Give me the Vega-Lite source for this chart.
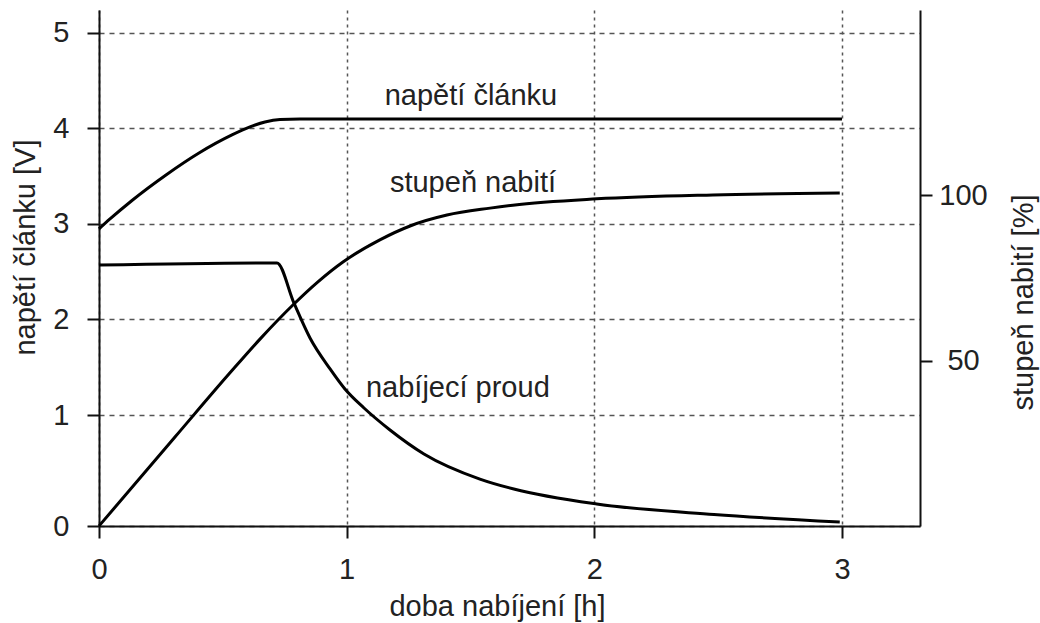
{
  "$schema": "https://vega.github.io/schema/vega-lite/v6.json",
  "width": 821,
  "height": 516,
  "autosize": "none",
  "padding": {"left": 99, "top": 10, "right": 120, "bottom": 97},
  "background": "white",
  "config": {
    "font": "Liberation Sans",
    "view": {"stroke": null},
    "axis": {
      "domainColor": "#111",
      "domainWidth": 2,
      "tickColor": "#111",
      "tickWidth": 2,
      "tickSize": 12,
      "labelFont": "Liberation Sans",
      "labelFontSize": 29,
      "labelColor": "#222",
      "labelFlush": false,
      "titleFont": "Liberation Sans",
      "titleFontSize": 29,
      "titleFontWeight": "normal",
      "titleColor": "#222",
      "gridColor": "#555",
      "gridWidth": 1.5
    }
  },
  "datasets": {
    "curves": [
      {"series": "napětí článku", "x": 0, "value": 2.948},
      {"series": "napětí článku", "x": 0.0444, "value": 3.052},
      {"series": "napětí článku", "x": 0.1332, "value": 3.246},
      {"series": "napětí článku", "x": 0.2705, "value": 3.513},
      {"series": "napětí článku", "x": 0.4037, "value": 3.743},
      {"series": "napětí článku", "x": 0.5369, "value": 3.932},
      {"series": "napětí článku", "x": 0.6096, "value": 4.016},
      {"series": "napětí článku", "x": 0.6701, "value": 4.068},
      {"series": "napětí článku", "x": 0.7307, "value": 4.094},
      {"series": "napětí článku", "x": 0.8114, "value": 4.099},
      {"series": "napětí článku", "x": 1.0, "value": 4.099},
      {"series": "napětí článku", "x": 2.0, "value": 4.099},
      {"series": "napětí článku", "x": 3.0, "value": 4.099},
      {"series": "nabíjecí proud", "x": 0, "value": 2.57},
      {"series": "nabíjecí proud", "x": 0.7186, "value": 2.592},
      {"series": "nabíjecí proud", "x": 0.787, "value": 2.173},
      {"series": "nabíjecí proud", "x": 0.852, "value": 1.806},
      {"series": "nabíjecí proud", "x": 0.933, "value": 1.482},
      {"series": "nabíjecí proud", "x": 0.993, "value": 1.272},
      {"series": "nabíjecí proud", "x": 1.07, "value": 1.073},
      {"series": "nabíjecí proud", "x": 1.175, "value": 0.865},
      {"series": "nabíjecí proud", "x": 1.312, "value": 0.649},
      {"series": "nabíjecí proud", "x": 1.538, "value": 0.423},
      {"series": "nabíjecí proud", "x": 1.675, "value": 0.333},
      {"series": "nabíjecí proud", "x": 2.01, "value": 0.198},
      {"series": "nabíjecí proud", "x": 2.483, "value": 0.104},
      {"series": "nabíjecí proud", "x": 2.991, "value": 0.036}
    ],
    "soc": [
      {"x": 0, "pct": 0},
      {"x": 0.3068, "pct": 26.9},
      {"x": 0.5289, "pct": 46.3},
      {"x": 0.65, "pct": 56.5},
      {"x": 0.783, "pct": 66.8},
      {"x": 0.884, "pct": 73.8},
      {"x": 0.985, "pct": 79.8},
      {"x": 1.134, "pct": 86.5},
      {"x": 1.256, "pct": 90.7},
      {"x": 1.405, "pct": 94.0},
      {"x": 1.579, "pct": 96.1},
      {"x": 1.671, "pct": 97.0},
      {"x": 2.01, "pct": 98.9},
      {"x": 2.479, "pct": 100.1},
      {"x": 2.991, "pct": 100.7}
    ],
    "labels": [
      {"label": "napětí článku", "x": 1.502, "value": 4.246},
      {"label": "stupeň nabití", "x": 1.51, "value": 3.338},
      {"label": "nabíjecí proud", "x": 1.449, "value": 1.19}
    ]
  },
  "layer": [
    {
      "layer": [
        {
          "data": {"name": "curves"},
          "mark": {"type": "line", "color": "#000", "strokeWidth": 3, "interpolate": "monotone"},
          "encoding": {
            "x": {
              "field": "x", "type": "quantitative",
              "scale": {"domain": [0, 3.315], "nice": false, "zero": false},
              "axis": {
                "values": [0, 1, 2, 3],
                "format": "d",
                "grid": true,
                "gridDash": [3, 4],
                "labelPadding": 17,
                "title": "doba nabíjení [h]",
                "titleX": 398,
                "titleY": 89,
                "titleBaseline": "alphabetic",
                "titleAlign": "center"
              }
            },
            "y": {
              "field": "value", "type": "quantitative",
              "scale": {"domain": [0, 1, 5.24], "range": [516, 405, 0], "nice": false, "zero": false},
              "axis": {
                "values": [0, 1, 2, 3, 4, 5],
                "format": "d",
                "grid": true,
                "gridDash": [5, 5],
                "labelPadding": 18,
                "title": "napětí článku [V]",
                "titleAngle": 270,
                "titleX": -74,
                "titleY": 237,
                "titleBaseline": "middle",
                "titleAlign": "center"
              }
            },
            "detail": {"field": "series"}
          }
        },
        {
          "data": {"name": "labels"},
          "mark": {"type": "text", "font": "Liberation Sans", "fontSize": 29, "color": "#222", "align": "center", "baseline": "alphabetic"},
          "encoding": {
            "x": {"field": "x", "type": "quantitative"},
            "y": {"field": "value", "type": "quantitative"},
            "text": {"field": "label"}
          }
        }
      ]
    },
    {
      "data": {"name": "soc"},
      "mark": {"type": "line", "color": "#000", "strokeWidth": 3, "interpolate": "monotone"},
      "encoding": {
        "x": {"field": "x", "type": "quantitative"},
        "y": {
          "field": "pct", "type": "quantitative",
          "scale": {"domain": [0, 156], "nice": false, "zero": false},
          "axis": {
            "orient": "right",
            "values": [50, 100],
            "grid": false,
            "labelAlign": "center",
            "labelPadding": 31,
            "title": "stupeň nabití [%]",
            "titleAngle": 270,
            "titleX": 103,
            "titleY": 292,
            "titleBaseline": "middle",
            "titleAlign": "center"
          }
        }
      }
    }
  ],
  "resolve": {"scale": {"y": "independent"}}
}
